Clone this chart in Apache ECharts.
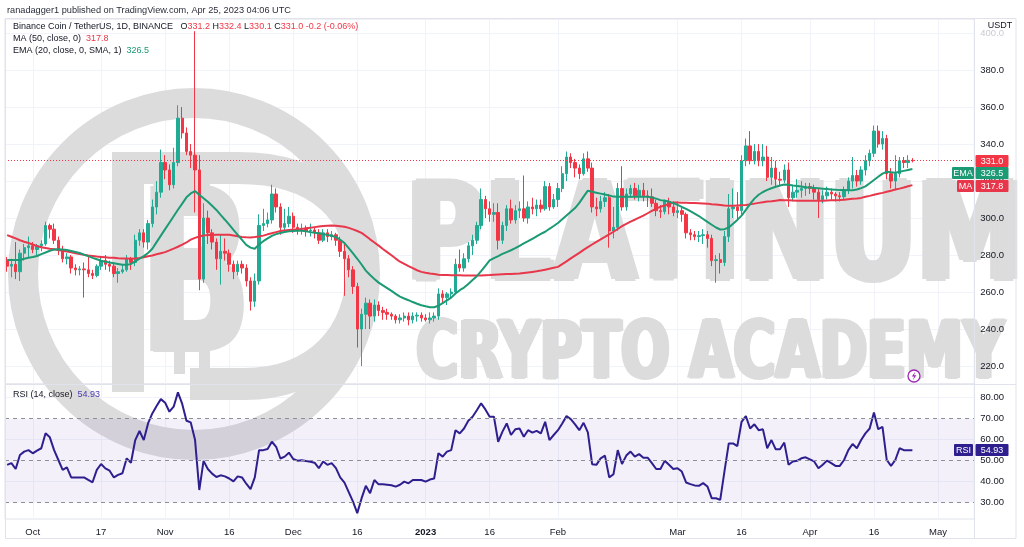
<!DOCTYPE html>
<html>
<head>
<meta charset="utf-8">
<title>BNB / USDT 1D</title>
<script src="https://cdn.jsdelivr.net/npm/echarts@6/dist/echarts.min.js"></script>
<style>
  html, body { margin: 0; padding: 0; background: #fff; }
  #chart { width: 1024px; height: 547px; }
</style>
</head>
<body>
<div id="chart"></div>
<script>
// Binance Coin / TetherUS daily, 2022-09-25 .. 2023-04-25
var startDay = Date.UTC(2022, 8, 25);
var dayCount = 227; // axis runs on to 2023-05-09

var opens = [
  277, 274, 275, 271, 281, 284,
  285, 283, 285, 286, 296, 294, 288, 283, 278, 279, 273, 272, 272.5, 272, 270, 269, 274, 277, 275, 274, 270, 271, 272, 278, 276, 288, 292, 287, 297, 306, 314,
  330, 326, 318, 330, 354, 346, 336, 334, 326, 267, 300, 292, 287, 278, 282, 281, 275, 271, 275, 273, 266, 255, 266, 296, 297, 299, 313, 306, 295, 297,
  301, 295, 294, 294.5, 293, 293.5, 292, 288, 292, 290, 291, 288, 282, 278, 272, 263, 240, 248, 254, 247, 253, 250, 249, 248, 247, 245, 246, 247, 245, 247, 247.5,
  246, 245, 246, 247, 259, 257, 259, 260, 275, 273, 278, 285, 288, 296, 310, 305, 302, 303, 288, 296, 305, 299, 304, 305, 300, 306, 305, 307, 305, 317, 306,
  310, 316, 324, 333, 330, 327, 324, 332, 327, 306, 305, 309, 311, 293, 295, 316, 306, 313, 316, 312, 315, 312, 311.5, 308, 304, 303.5, 309, 306,
  303, 304, 302, 292, 291, 290, 290.5, 291, 289, 277, 277.5, 276, 290, 305, 306, 304, 331, 339, 331, 336, 331, 333, 322, 327, 321, 320.5, 326, 311, 314, 315, 316,
  317, 316, 314, 310, 312, 314, 313, 312, 311.5, 315, 320, 323, 320, 326, 331, 335, 347, 340, 343, 324, 320, 324, 331, 330, 331.2
];
var highs = [
  279, 278, 287, 283, 286, 290,
  287, 286, 288, 298, 297, 297, 290, 285, 281, 280, 275, 274, 276, 280, 272, 275, 279, 280, 277, 276, 273, 275, 280, 279, 291, 294, 294, 299, 310, 320, 337,
  334, 329, 338, 361, 360, 349, 340, 401, 334, 308, 304, 294, 289, 291, 289, 283, 277, 277, 277, 275, 268, 270, 302, 305, 303, 318, 316, 308, 305, 306,
  303, 297, 297, 296, 297, 295, 294, 294, 294, 293, 292, 290, 286, 280, 274, 265, 251, 257, 256, 256, 255, 252, 251, 249, 248, 248, 249, 249, 249, 249, 249,
  248, 249, 249, 262, 261, 260, 262, 278, 283, 281, 287, 291, 298, 316, 312, 309, 308, 308, 298, 307, 310, 307, 309, 323, 309, 311, 310, 310, 320, 319, 313,
  319, 328, 336, 335, 332, 329, 335, 336, 330, 311, 312, 314, 313, 306, 319, 328, 316, 318, 319, 318, 319, 315, 316, 310, 307, 310, 311, 309,
  309, 306, 303, 294, 293, 293, 294, 293, 291, 280, 281, 293, 313, 316, 314, 334, 343, 347, 340, 340, 340, 339, 333, 331, 325, 329, 330, 318, 321, 320, 319,
  319, 318, 316, 315, 317, 316, 314, 314, 317, 322, 333, 326, 328, 334, 337, 350, 350, 347, 345, 327, 334, 333, 333, 334, 332.4
];
var lows = [
  271, 268, 267, 266, 277, 279,
  281, 279, 282, 285, 289, 286, 280, 276, 275, 270, 269, 269, 257, 268, 267, 268, 272, 272, 271, 268, 265, 270, 271, 272, 274, 285, 284, 283, 295, 302, 311,
  321, 315, 316, 328, 343, 334, 327, 303, 261, 265, 286, 283, 272, 264, 277, 271, 267, 269, 270, 263, 250, 252, 264, 293, 295, 297, 303, 291, 293, 295,
  292, 291, 291, 290, 290, 289, 286, 287, 287, 288, 285, 279, 258, 268, 259, 230, 220, 240, 240, 244, 247, 245, 245, 245, 243, 243, 244, 242, 243, 244, 244,
  244, 243, 244, 245, 254, 253, 257, 259, 271, 271, 276, 280, 286, 294, 300, 298, 298, 283, 286, 293, 297, 297, 300, 298, 297, 302, 301, 303, 304, 304, 305,
  306, 314, 320, 327, 322, 321, 323, 325, 303, 301, 303, 306, 284, 289, 293, 304, 304, 311, 310, 309, 309, 306, 306, 301, 300, 302, 302, 301,
  300, 298, 289, 288, 288, 287, 286, 284, 274, 265, 270, 274, 287, 300, 299, 302, 328, 329, 329, 328, 328, 320, 318, 317, 317, 319, 306, 309, 311, 311, 312,
  313, 310, 300, 308, 310, 310, 309, 309, 310, 313, 316, 317, 318, 323, 328, 333, 338, 337, 321, 316, 315, 322, 327, 327, 330.1
];
var closes = [
  274, 275, 271, 281, 284, 285,
  283, 285, 286, 296, 294, 288, 283, 278, 279, 273, 272, 272.5, 272, 270, 269, 274, 277, 275, 274, 270, 271, 272, 278, 276, 288, 292, 287, 297, 306, 314, 330,
  326, 318, 330, 354, 346, 336, 334, 326, 267, 300, 292, 287, 278, 282, 281, 275, 271, 275, 273, 266, 255, 266, 296, 297, 299, 313, 306, 295, 297, 301,
  295, 294, 294.5, 293, 293.5, 292, 288, 292, 290, 291, 288, 282, 278, 272, 263, 240, 248, 254, 247, 253, 250, 249, 248, 247, 245, 246, 247, 245, 247, 247.5, 246,
  245, 246, 247, 259, 257, 259, 260, 275, 273, 278, 285, 288, 296, 310, 305, 302, 303, 288, 296, 305, 299, 304, 305, 300, 306, 305, 307, 305, 317, 306, 310,
  316, 324, 333, 330, 327, 324, 332, 327, 306, 305, 309, 311, 293, 295, 316, 306, 313, 316, 312, 315, 312, 311.5, 308, 304, 303.5, 309, 306, 303,
  304, 302, 292, 291, 290, 290.5, 291, 289, 277, 277.5, 276, 290, 305, 306, 304, 331, 339, 331, 336, 331, 333, 322, 327, 321, 320.5, 326, 311, 314, 315, 316, 317,
  316, 314, 310, 312, 314, 313, 312, 311.5, 315, 320, 323, 320, 326, 331, 335, 347, 340, 343, 324, 320, 324, 331, 330, 331.2, 331.0
];
var ma50 = [
  290.8, 289.9, 289.0, 288.0, 287.2, 286.5,
  285.7, 284.9, 284.2, 283.8, 283.4, 283.1, 282.7, 282.3, 281.9, 281.5, 281.0, 280.6, 280.2, 279.8, 279.5, 279.2, 279.0, 278.8, 278.6, 278.5, 278.3, 278.2, 278.1, 278.0, 278.2, 278.4, 278.8, 279.3, 279.8, 280.4, 281.0,
  281.6, 282.5, 283.5, 284.5, 285.6, 286.8, 288.3, 289.3, 290.0, 290.6, 290.8, 290.9, 291.0, 291.0, 291.0, 291.0, 290.6, 290.2, 289.8, 289.6, 289.5, 289.7, 290.0, 290.5, 291.2, 291.8, 292.4, 293.0, 293.3, 293.5,
  293.7, 293.9, 294.1, 294.5, 294.8, 295.1, 295.4, 295.7, 295.9, 296.0, 295.8, 295.6, 295.3, 294.7, 293.9, 293.0, 292.0, 290.3, 288.5, 286.8, 285.1, 283.3, 281.6, 279.9, 278.1, 276.4, 275.2, 274.0, 272.9, 271.8, 270.9,
  270.4, 270.0, 269.7, 269.4, 269.2, 269.2, 269.1, 269.1, 269.1, 269.0, 269.0, 269.0, 269.0, 269.0, 269.1, 269.2, 269.4, 269.5, 269.6, 269.7, 269.8, 269.9, 270.0, 270.3, 270.6, 270.9, 271.2, 271.6, 272.1, 272.6, 273.1,
  273.6, 275.1, 276.6, 278.2, 279.7, 281.2, 282.8, 284.3, 285.7, 287.1, 288.5, 289.8, 291.2, 292.6, 294.1, 295.6, 296.9, 298.1, 299.1, 300.2, 301.3, 302.6, 303.9, 305.1, 306.1, 306.8, 307.6, 308.4,
  308.4, 308.3, 308.3, 308.2, 308.1, 308.0, 307.9, 307.8, 307.5, 307.3, 307.1, 306.8, 306.6, 306.6, 306.8, 306.9, 307.0, 307.4, 307.8, 308.2, 308.6, 308.9, 309.1, 309.4, 309.7, 309.6, 309.6, 309.5, 309.4, 309.4, 309.4,
  309.4, 309.4, 309.4, 309.4, 309.5, 309.6, 309.6, 309.7, 309.9, 310.2, 310.4, 310.6, 310.9, 311.5, 312.0, 312.6, 313.1, 313.6, 314.2, 314.8, 315.4, 315.9, 316.5, 317.2, 317.8
];
var ema20 = [
  277.3, 277.3, 277.3, 277.3, 278.0, 278.5,
  278.9, 279.5, 280.5, 281.4, 282.3, 283.0, 283.1, 283.0, 282.7, 282.2, 281.7, 281.1, 280.2, 279.4, 278.5, 277.7, 276.9, 276.4, 276.0, 275.6, 275.2, 274.8, 274.7, 275.2, 276.6, 278.0, 279.4, 281.1, 283.4, 287.0, 290.5,
  294.0, 297.5, 301.0, 304.5, 307.8, 311.2, 313.3, 314.6, 312.6, 310.7, 308.8, 306.6, 304.4, 301.7, 299.1, 296.4, 293.6, 290.9, 288.2, 285.5, 284.0, 283.4, 285.8, 287.5, 289.0, 290.4, 291.3, 291.9, 292.5, 292.8,
  293.0, 293.1, 293.1, 292.8, 292.4, 292.1, 291.8, 291.4, 290.9, 290.4, 289.7, 288.3, 286.5, 283.7, 280.9, 278.0, 274.9, 271.6, 269.2, 267.1, 265.1, 263.6, 262.1, 260.6, 259.0, 257.5, 256.5, 255.6, 254.6, 253.7, 252.9,
  252.3, 251.8, 251.8, 252.6, 254.0, 255.5, 257.0, 259.2, 261.0, 262.4, 264.4, 266.5, 268.6, 271.3, 274.2, 277.1, 278.3, 279.4, 280.6, 281.6, 282.6, 283.7, 285.0, 286.3, 287.5, 288.8, 290.1, 291.4, 292.6, 294.2, 295.7,
  297.3, 299.3, 301.4, 303.4, 305.4, 308.2, 311.6, 314.8, 314.2, 313.7, 313.2, 312.7, 312.2, 311.6, 311.5, 311.5, 311.5, 311.5, 311.5, 311.5, 311.5, 311.5, 311.1, 310.5, 309.7, 309.3, 308.9, 308.1,
  307.1, 306.0, 305.0, 303.7, 302.4, 301.1, 299.5, 297.9, 296.4, 294.9, 293.8, 294.0, 294.9, 296.9, 299.0, 301.3, 304.4, 307.6, 310.5, 312.6, 314.1, 315.2, 316.1, 316.9, 317.6, 318.1, 318.0, 317.6, 317.3, 317.0, 316.7,
  316.5, 316.3, 316.1, 315.9, 315.7, 315.5, 315.3, 315.1, 315.1, 315.0, 315.0, 315.4, 316.2, 317.1, 318.8, 320.6, 322.3, 324.0, 325.0, 324.8, 324.5, 325.0, 325.5, 326.0, 326.5
];
var rsi14 = [
  48, 48.8, 46, 52.7, 54.3, 55,
  53.5, 54.8, 55.9, 63, 61.1, 55, 50.3, 45.6, 46.8, 42, 42, 42, 42, 40.8, 39.7, 45.6, 48.4, 46.3, 45.2, 42, 43.2, 44, 51.1, 49, 59.8, 64.1, 59.8, 67.7, 72.5, 76, 79.3,
  77.6, 73.3, 75.7, 82.5, 77, 69, 68.2, 60, 36, 49.9, 46, 43.8, 42.2, 43, 42.5, 41.5, 40.1, 42.5, 42, 39, 36.4, 42, 55, 55, 55.5, 59, 56.6, 51, 51.9, 53.8,
  50.8, 50, 50.2, 49.8, 49.5, 49, 46.4, 49.6, 48, 48.8, 46.4, 42, 39.5, 35, 30.5, 25, 32, 38, 34.5, 40.8, 38.7, 38.7, 38.5, 38.3, 37.6, 38.5, 40, 39.2, 40.8, 40.8, 40.8,
  40, 41, 41.5, 53.5, 51.9, 54.3, 55, 64.5, 63, 65.3, 69, 70.9, 74, 77.3, 74.4, 70.9, 70.9, 59, 63.8, 67.7, 62.2, 64.9, 65.3, 61.4, 64.5, 63.3, 64.2, 63, 68.5, 59.8, 62.2,
  64.5, 67.7, 71.2, 69.8, 67.3, 64.5, 68, 63.5, 48.3, 48, 51.1, 52.4, 42, 43.5, 55, 48.4, 52.4, 54.3, 51.9, 53.1, 51.4, 51.4, 48.8, 46, 46, 49.9, 48, 46,
  46.4, 44.8, 39.6, 38.8, 38.2, 38, 39.3, 37.7, 32.1, 32.1, 31.3, 45, 58.2, 58.2, 56.9, 68.5, 71.2, 65.3, 67.3, 64.5, 64.9, 55.9, 59.8, 55.4, 55.4, 58.6, 48, 49.6, 49.9, 51.1, 51.6,
  50.6, 49.6, 46.4, 48, 50, 48.8, 47.5, 47.5, 50.3, 55, 57.9, 55.9, 59.8, 63, 65.3, 72.9, 65, 66.1, 50.3, 47.5, 50.3, 55.9, 55, 55, 54.93
];
var tickDates = ['2022-10-01', '2022-10-17', '2022-11-01', '2022-11-16', '2022-12-01', '2022-12-16', '2023-01-01',
  '2023-01-16', '2023-02-01', '2023-03-01', '2023-03-16', '2023-04-01', '2023-04-16', '2023-05-01'];
var tickLabels = ['Oct', '17', 'Nov', '16', 'Dec', '16', '2023', '16', 'Feb', 'Mar', '16', 'Apr', '16', 'May'];
var priceTicks = [220, 240, 260, 280, 300, 320, 340, 360, 380, 400];
var rsiTicks = [40, 60, 80];
var rsiLevels = [30, 50, 70];

var upColor = '#22ab94', downColor = '#f23645';
var maColor = '#e8374a', emaColor = '#1b9a74', rsiColor = '#2e1f8f';
var gridColor = '#f0f3fa', frameColor = '#e0e3eb', textColor = '#131722';
var wmColor = '#dcdcdc';
var FONT = '"Liberation Sans", Arial, sans-serif';
var NARROW = '"Liberation Sans Narrow", "DejaVu Sans Condensed", sans-serif';

var dates = [];
for (var i = 0; i < dayCount; i++) {
  dates.push(new Date(startDay + i * 86400000).toISOString().slice(0, 10));
}
var labelOf = {};
tickDates.forEach(function (d, k) { labelOf[d] = tickLabels[k]; });

var candles = opens.map(function (o, i) { return [o, closes[i], lows[i], highs[i]]; });
var last = closes.length - 1;

// grid lines live on an empty helper series (markLine z 0) so the watermark sits above them
function gridLines(idx, levels) {
  var lines = tickDates.map(function (d) { return { xAxis: d }; });
  levels.forEach(function (v) { lines.push({ yAxis: v }); });
  return {
    type: 'line', xAxisIndex: idx, yAxisIndex: idx, data: [], z: 0, silent: true,
    markLine: {
      z: 0, silent: true, symbol: ['none', 'none'], label: { show: false },
      lineStyle: { color: gridColor, type: 'solid', width: 1 },
      data: lines
    }
  };
}

var chart = echarts.init(document.getElementById('chart'));
var option = {
  animation: false,
  backgroundColor: '#ffffff',
  textStyle: { fontFamily: FONT },
  grid: [
    { left: 5, right: 49.7, top: 19, height: 365, show: true, borderColor: frameColor, borderWidth: 1 },
    { left: 5, right: 49.7, top: 384, height: 135, show: true, borderColor: frameColor, borderWidth: 1 }
  ],
  xAxis: [
    {
      type: 'category', gridIndex: 0, data: dates, boundaryGap: true, z: 5,
      axisLine: { show: false }, axisTick: { show: false }, axisLabel: { show: false }, splitLine: { show: false }
    },
    {
      type: 'category', gridIndex: 1, data: dates, boundaryGap: true, z: 5,
      axisLine: { show: false }, axisTick: { show: false }, splitLine: { show: false },
      axisLabel: {
        color: textColor, fontSize: 9.5, margin: 8,
        interval: function (idx, val) { return labelOf[val] !== undefined; },
        formatter: function (val) {
          var t = labelOf[val] || '';
          return /^\d{4}$/.test(t) ? '{y|' + t + '}' : t;
        },
        rich: { y: { fontWeight: 'bold', fontSize: 9.5, color: textColor } }
      }
    }
  ],
  yAxis: [
    {
      type: 'value', gridIndex: 0, position: 'right', min: 210.3, max: 407.6, splitNumber: 10, z: 5,
      axisLine: { show: false }, axisTick: { show: false }, splitLine: { show: false },
      axisLabel: {
        color: textColor, fontSize: 9.5, margin: 6,
        formatter: function (v) {
          if (Math.abs(v % 20) > 1e-6) { return ''; }
          return v >= 400 ? '{f|' + v.toFixed(1) + '}' : v.toFixed(1);
        },
        rich: { f: { color: '#c9cbd1', fontSize: 9.5 } }
      }
    },
    {
      type: 'value', gridIndex: 1, position: 'right', min: 22.2, max: 86.5, splitNumber: 6, z: 5,
      axisLine: { show: false }, axisTick: { show: false }, splitLine: { show: false },
      axisLabel: {
        color: textColor, fontSize: 9.5, margin: 6,
        formatter: function (v) { return Math.abs(v % 10) < 1e-6 ? v.toFixed(2) : ''; }
      }
    }
  ],
  series: [
    gridLines(0, priceTicks),
    gridLines(1, rsiTicks),
    {
      name: 'BNBUSDT', type: 'candlestick', xAxisIndex: 0, yAxisIndex: 0, data: candles, barWidth: '68%',
      itemStyle: { color: upColor, color0: downColor, borderColor: upColor, borderColor0: downColor, borderWidth: 1 },
      markLine: {
        silent: true, symbol: ['none', 'none'], label: { show: false },
        lineStyle: { color: downColor, type: [1, 2], width: 1 },
        data: [{ yAxis: closes[last] }]
      }
    },
    {
      name: 'MA 50', type: 'line', xAxisIndex: 0, yAxisIndex: 0, data: ma50, symbol: 'none', z: 3,
      lineStyle: { color: maColor, width: 2 }
    },
    {
      name: 'EMA 20', type: 'line', xAxisIndex: 0, yAxisIndex: 0, data: ema20, symbol: 'none', z: 4,
      lineStyle: { color: emaColor, width: 2 }
    },
    {
      name: 'RSI 14', type: 'line', xAxisIndex: 1, yAxisIndex: 1, data: rsi14, symbol: 'none', z: 4,
      lineStyle: { color: rsiColor, width: 2 },
      markArea: {
        z: 2, silent: true, itemStyle: { color: 'rgba(126,87,194,0.09)' },
        data: [[{ yAxis: rsiLevels[0] }, { yAxis: rsiLevels[2] }]]
      },
      markLine: {
        silent: true, symbol: ['none', 'none'], label: { show: false },
        lineStyle: { color: '#8d9099', type: [4, 4], width: 1 },
        data: rsiLevels.map(function (v) { return { yAxis: v }; })
      }
    }
  ]
};
chart.setOption(option);

// ---- overlays: watermark, legends, axis tags ----
var measureCtx = document.createElement('canvas').getContext('2d');

// stretch a watermark word so its glyphs fill the given box; a few offset
// copies make the strokes heavier
function fitText(text, font, left, top, width, height, bold) {
  measureCtx.font = font;
  measureCtx.textBaseline = 'middle';
  var m = measureCtx.measureText(text);
  var asc = m.actualBoundingBoxAscent, desc = m.actualBoundingBoxDescent;
  var w = m.actualBoundingBoxLeft + m.actualBoundingBoxRight;
  var b = bold || 0;
  var sx = (width - 2 * b) / w, sy = (height - b) / (asc + desc);
  var x0 = left + b + m.actualBoundingBoxLeft * sx, y0 = top + b / 2 + asc * sy;
  var offsets = b ? [[0, 0], [-b, 0], [b, 0], [0, -b / 2], [0, b / 2], [-b / 2, 0], [b / 2, 0]] : [[0, 0]];
  return offsets.map(function (o) {
    return {
      type: 'text', z: 1, silent: true, x: x0 + o[0], y: y0 + o[1], scaleX: sx, scaleY: sy,
      style: { text: text, font: font, fill: wmColor, textAlign: 'left', textVerticalAlign: 'middle' }
    };
  });
}
function txt(x, y, text, font, fill, align, extra) {
  var el = {
    type: 'text', x: x, y: y, z: 20, silent: true,
    style: { text: text, font: font, fill: fill, textAlign: align || 'left', textVerticalAlign: 'middle' }
  };
  if (extra) { for (var k in extra) { el.style[k] = extra[k]; } }
  return el;
}
function box(x, yc, w, text, bg) {
  return {
    type: 'group', x: x, y: Math.round(yc) - 6, z: 30, silent: true,
    children: [
      { type: 'rect', z: 30, shape: { x: 0, y: 0, width: w, height: 12, r: 1 }, style: { fill: bg } },
      { type: 'text', z: 31, style: { x: w / 2, y: 6.5, text: text, fill: '#ffffff', font: '9px ' + FONT, textAlign: 'center', textVerticalAlign: 'middle' } }
    ]
  };
}
function wmStroke(type, shape, width) {
  return { type: type, z: 1, silent: true, shape: shape, style: { fill: 'none', stroke: wmColor, lineWidth: width, lineCap: 'butt' } };
}

var yPrice = chart.convertToPixel({ yAxisIndex: 0 }, closes[last]);
var yEma = Math.max(chart.convertToPixel({ yAxisIndex: 0 }, ema20[last]), yPrice + 12.5);
var yMa = Math.max(chart.convertToPixel({ yAxisIndex: 0 }, ma50[last]), yEma + 12.5);
var yRsi = chart.convertToPixel({ yAxisIndex: 1 }, rsi14[last]);

var chg = closes[last] - closes[last - 1];
var pct = chg / closes[last - 1] * 100;
var legendText = '{t|Binance Coin / TetherUS, 1D, BINANCE}   {t|O}{v|' + opens[last].toFixed(1) +
  '} {t|H}{v|' + highs[last].toFixed(1) + '} {t|L}{v|' + lows[last].toFixed(1) +
  '} {t|C}{v|' + closes[last].toFixed(1) + '} {v|' + chg.toFixed(1) + ' (' + pct.toFixed(2) + '%)}';
var legendRich = {
  t: { fill: textColor, fontSize: 9, fontFamily: FONT },
  v: { fill: downColor, fontSize: 9, fontFamily: FONT },
  m: { fill: maColor, fontSize: 9, fontFamily: FONT },
  e: { fill: emaColor, fontSize: 9, fontFamily: FONT },
  r: { fill: '#4a3bb0', fontSize: 9, fontFamily: FONT }
};

var bigFont = 'bold 148px ' + NARROW;
var midFont = 'bold 88px ' + NARROW;
var bFont = 'bold 250px ' + NARROW;

var graphics = [
  // watermark logo: ring, P outline, bitcoin B
  wmStroke('circle', { cx: 194, cy: 274, r: 171 }, 30),
  wmStroke('polyline', { points: [[128, 392], [128, 168], [240, 168]] }, 32),
  wmStroke('bezierCurve', { x1: 238, y1: 168, cpx1: 322, cpy1: 168, cpx2: 362, cpy2: 212, x2: 362, y2: 272 }, 32),
  wmStroke('bezierCurve', { x1: 362, y1: 268, cpx1: 362, cpy1: 336, cpx2: 318, cpy2: 384, x2: 244, y2: 384 }, 32),
  wmStroke('line', { x1: 248, y1: 384, x2: 190, y2: 384 }, 32),
  { type: 'rect', z: 1, silent: true, shape: { x: 174, y: 162, width: 11, height: 26 }, style: { fill: wmColor } },
  { type: 'rect', z: 1, silent: true, shape: { x: 199, y: 162, width: 11, height: 26 }, style: { fill: wmColor } },
  { type: 'rect', z: 1, silent: true, shape: { x: 174, y: 348, width: 11, height: 26 }, style: { fill: wmColor } },
  { type: 'rect', z: 1, silent: true, shape: { x: 199, y: 348, width: 11, height: 26 }, style: { fill: wmColor } },

  // frame
  { type: 'rect', z: 15, silent: true, shape: { x: 5.5, y: 18.5, width: 1010.5, height: 520 }, style: { fill: 'none', stroke: frameColor, lineWidth: 1 } },
  { type: 'line', z: 15, silent: true, shape: { x1: 974.5, y1: 18.5, x2: 974.5, y2: 538.5 }, style: { stroke: frameColor, lineWidth: 1 } },
  { type: 'line', z: 15, silent: true, shape: { x1: 5.5, y1: 384.5, x2: 1016, y2: 384.5 }, style: { stroke: frameColor, lineWidth: 1 } },

  // header and legends
  txt(7, 10, 'ranadagger1 published on TradingView.com, Apr 25, 2023 04:06 UTC', '9.2px ' + FONT, '#2a2e39'),
  txt(13, 27, legendText, '9px ' + FONT, textColor, 'left', { rich: legendRich }),
  txt(13, 39, '{t|MA (50, close, 0)}  {m|' + ma50[last].toFixed(1) + '}', '9px ' + FONT, textColor, 'left', { rich: legendRich }),
  txt(13, 51, '{t|EMA (20, close, 0, SMA, 1)}  {e|' + ema20[last].toFixed(1) + '}', '9px ' + FONT, textColor, 'left', { rich: legendRich }),
  txt(13, 395, '{t|RSI (14, close)}  {r|' + rsi14[last].toFixed(2) + '}', '9px ' + FONT, textColor, 'left', { rich: legendRich }),
  txt(1000, 26, 'USDT', '9px ' + FONT, textColor, 'center'),

  // small event icon
  { type: 'circle', z: 20, silent: true, shape: { cx: 914, cy: 376, r: 6 }, style: { fill: '#ffffff', stroke: '#9c27b0', lineWidth: 1.3 } },
  { type: 'polygon', z: 21, silent: true, shape: { points: [[915.5, 371.5], [911.8, 376.6], [914.2, 376.6], [912.6, 380.6], [916.4, 375.2], [914, 375.2]] }, style: { fill: '#9c27b0' } },

  // axis tags
  box(975.5, yPrice, 33, closes[last].toFixed(1), downColor),
  box(952, yEma, 22, 'EMA', emaColor),
  box(975.5, yEma, 33, ema20[last].toFixed(1), emaColor),
  box(957, yMa, 17, 'MA', maColor),
  box(975.5, yMa, 33, ma50[last].toFixed(1), maColor),
  box(954, yRsi, 19, 'RSI', rsiColor),
  box(975.5, yRsi, 33, rsi14[last].toFixed(2), rsiColor)
]
  .concat(fitText('B', bFont, 150, 184, 94, 168, 3))
  .concat(fitText('PLATINUM', bigFont, 412, 177, 606, 106, 4))
  .concat(fitText('CRYPTO ACADEMY', midFont, 416, 317, 592, 63, 2.5));
chart.setOption({ graphic: { elements: graphics } });
</script>
</body>
</html>
